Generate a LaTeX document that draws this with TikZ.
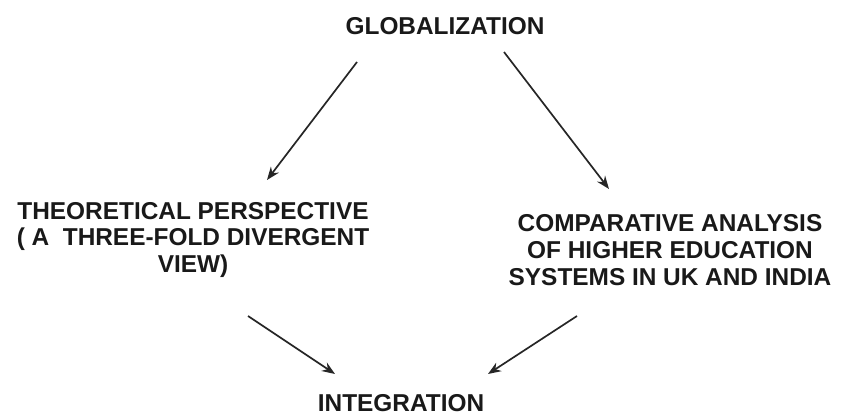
\documentclass[tikz,border=0pt]{standalone}
\usepackage{fontspec}
\setmainfont{Liberation Sans}
\usetikzlibrary{arrows.meta}
\begin{document}
\begin{tikzpicture}[x=1pt,y=-1pt,
  label/.style={font=\bfseries\fontsize{24.4}{26.8}\selectfont, align=center, inner sep=0pt, text=black!90},
  link/.style={line width=1.7pt, draw=black!85, -{Stealth[length=13pt,width=10pt]}}]
  \useasboundingbox (0,0) rectangle (841,415);
  % topics
  \node[label] (glob) at (445,26) {GLOBALIZATION};
  \node[label] (theo) at (193,240) {THEORETICAL PERSPECTIVE\\( A\ \ THREE-FOLD DIVERGENT\\VIEW)};
  \node[label] (comp) at (670,250) {COMPARATIVE ANALYSIS\\OF HIGHER EDUCATION\\SYSTEMS IN UK AND INDIA};
  \node[label] (integ) at (401,403) {INTEGRATION};
  % arrow end points
  \coordinate (g1) at (357,62);
  \coordinate (t1) at (267,180);
  \coordinate (g2) at (504,52);
  \coordinate (c1) at (609,189);
  \coordinate (t2) at (248,316);
  \coordinate (i1) at (335,374);
  \coordinate (c2) at (577,316);
  \coordinate (i2) at (488,374);
  \draw[link] (g1) -- (t1);
  \draw[link] (g2) -- (c1);
  \draw[link] (t2) -- (i1);
  \draw[link] (c2) -- (i2);
\end{tikzpicture}
\end{document}
